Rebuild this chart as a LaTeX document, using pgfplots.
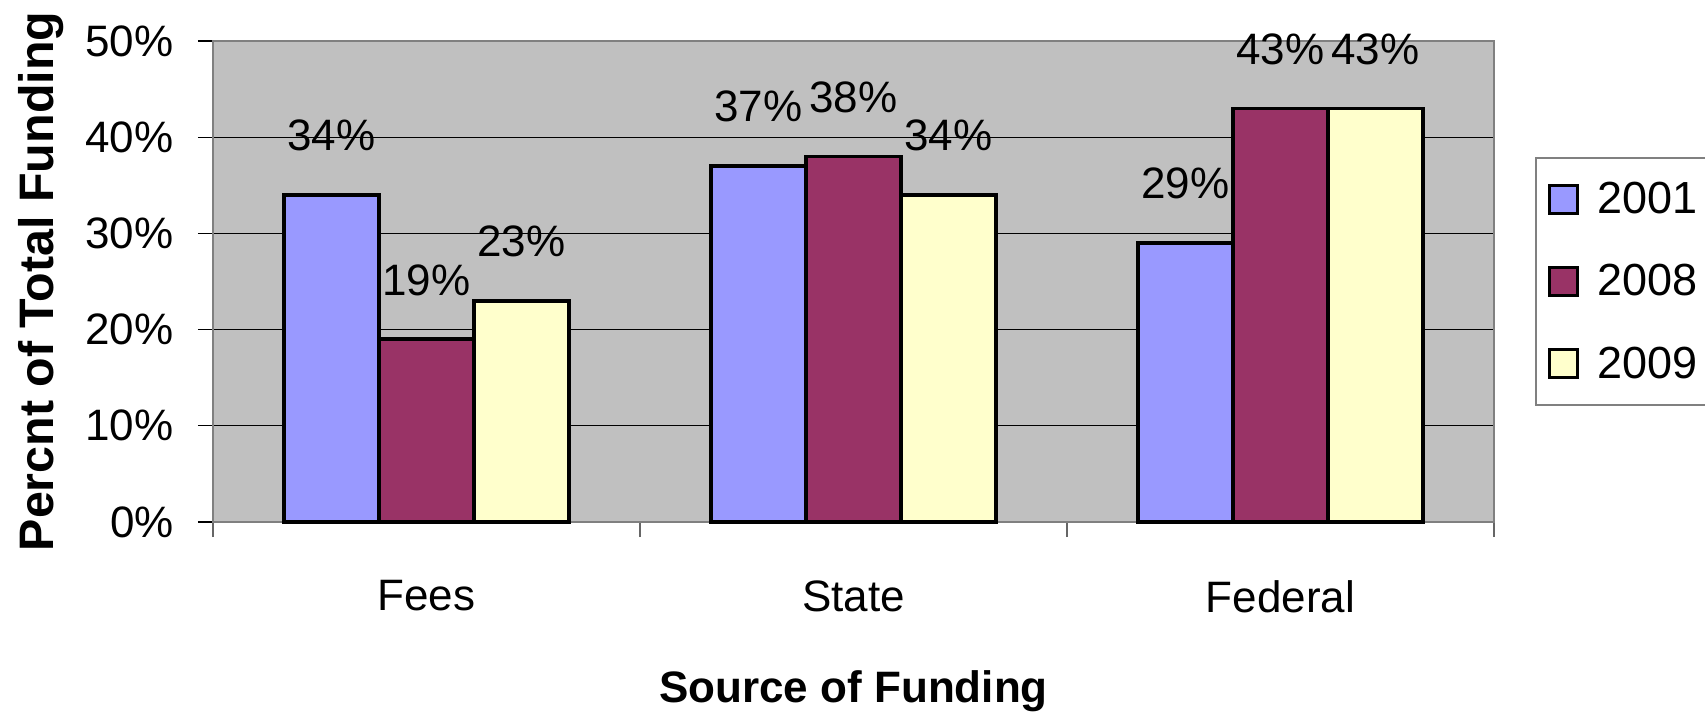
\documentclass[border=0pt]{standalone}
\usepackage{pgfplots}
\pgfplotsset{compat=1.18}
\usepackage{fontspec}
\setmainfont{Liberation Sans}
\definecolor{cA}{HTML}{9999FF}
\definecolor{cB}{HTML}{993366}
\definecolor{cC}{HTML}{FFFFCC}
\definecolor{silver}{HTML}{C0C0C0}
\newcommand\fs{\fontsize{22}{26}\selectfont}
\begin{document}
\begin{tikzpicture}
\begin{axis}[
  at={(0,0)}, anchor=south west,
  scale only axis, width=640.5pt, height=240.5pt,
  ybar, bar width=0.2225,
  xmin=-0.5, xmax=2.5, ymin=0, ymax=50,
  clip=false,
  axis background/.style={fill=silver},
  axis line style={draw=black!50, line width=1.2pt},
  /pgf/number format/assume math mode=true,
  tick pos=left,
  ytick={0,10,20,30,40,50},
  yticklabels={0\%,10\%,20\%,30\%,40\%,50\%},
  yticklabel style={font=\fs, anchor=east, inner sep=0pt, xshift=-12pt},
  ymajorgrids, major grid style={black, line width=0.6pt},
  tick align=outside, major tick length=7.5pt,
  ytick style={black, line width=0.6pt},
  xtick={-0.5,0.5,1.5,2.5}, xticklabels={},
  xtick style={black!60, line width=0.8pt},
  extra x ticks={0,1,2},
  extra x tick labels={Fees,State,Federal},
  extra x tick style={major tick length=0pt, grid=none},
  xticklabel style={font=\fs, anchor=north, inner sep=0pt, yshift=-29pt},
  xlabel={\textbf{Source of Funding}},
  xlabel style={font=\fontsize{22}{26}\selectfont, at={(axis description cs:0.5,0)}, anchor=base, yshift=-90pt},
  ylabel={\textbf{Percnt of Total Funding}},
  ylabel style={font=\fontsize{24.2}{28}\selectfont, at={(axis description cs:-0.1249,0.5)}, anchor=base},
  nodes near coords={\pgfmathprintnumber{\pgfplotspointmeta}\%},
  every node near coord/.append style={font=\fs, inner sep=0pt, yshift=21pt},
  legend style={at={(1.032,0.759)}, anchor=north west, draw=black!50, line width=1pt,
    fill=white, font=\fontsize{22.5}{26}\selectfont, row sep=20pt,
    inner xsep=6pt, inner ysep=10pt},
  legend cell align=left,
  legend image code/.code={\draw[#1,draw=black,line width=1.5pt] (0pt,-7pt) rectangle (14pt,7pt);\path (21pt,0pt);},
]
\addplot[fill=cA, draw=black, line width=1.8pt, bar shift=-0.2225] coordinates {(0,34) (1,37) (2,29)};
\addplot[fill=cB, draw=black, line width=1.8pt, bar shift=0] coordinates {(0,19) (1,38) (2,43)};
\addplot[fill=cC, draw=black, line width=1.8pt, bar shift=0.2225] coordinates {(0,23) (1,34) (2,43)};
\legend{2001,2008,2009}
\end{axis}
\pgfresetboundingbox
\path[use as bounding box] (-106.5pt,-96pt) rectangle (746pt,261pt);
\end{tikzpicture}
\end{document}
